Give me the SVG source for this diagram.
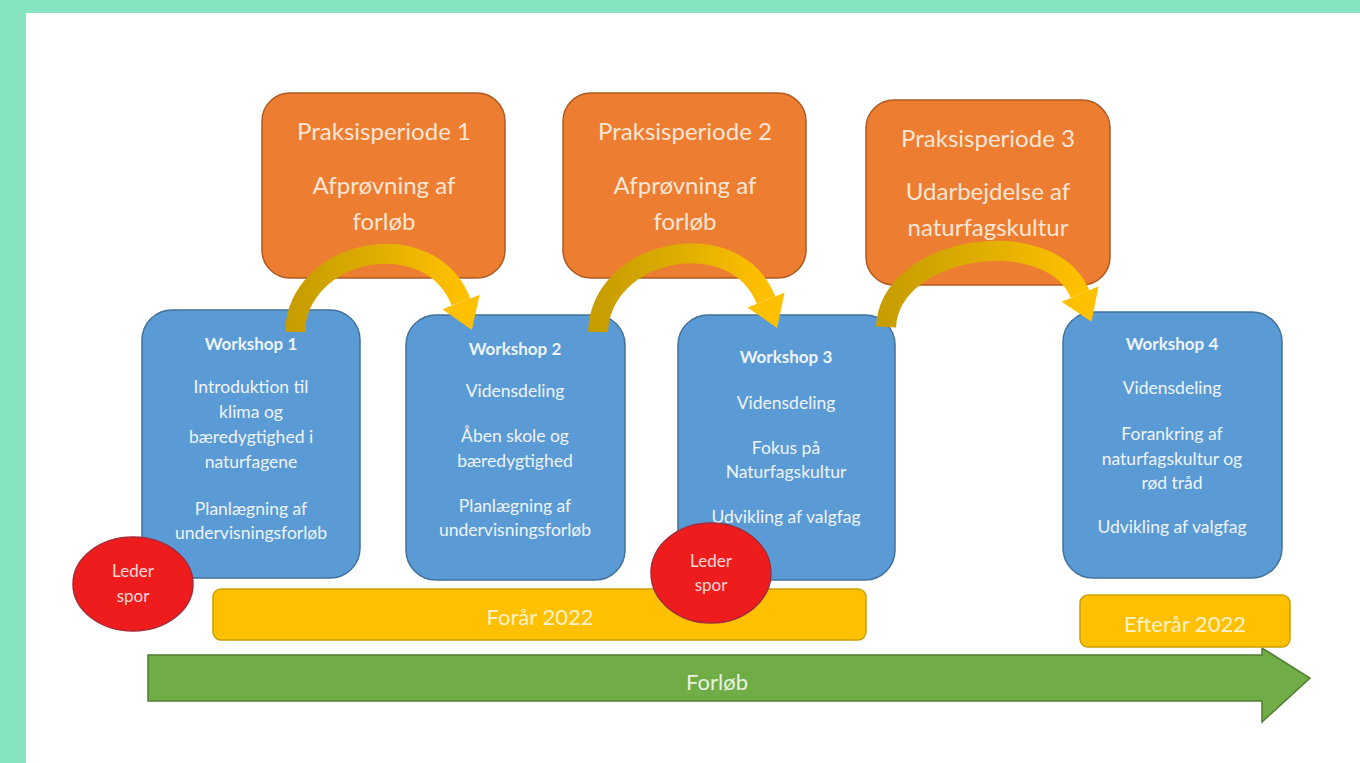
<svg xmlns="http://www.w3.org/2000/svg" width="1360" height="763" viewBox="0 0 1360 763">
<style>
.t{font-family:Lato,"Open Sans","Liberation Sans",sans-serif;text-anchor:middle}
.pp{fill:#ED7D31;stroke:#AE5A21;stroke-width:1.5}
.ppt{fill:#FCE6D6;font-size:24px}
.ws{fill:#5B9BD5;stroke:#41719C;stroke-width:1.5}
.wst{fill:#EEF4FB;font-size:17.5px}
.wsh{font-weight:bold;font-size:17px}
.ld{fill:#EE1C1C;stroke:#A52A3A;stroke-width:1.5}
.ldt{fill:#FBD8D8;font-size:17px}
.bar{fill:#FFC000;stroke:#C9A000;stroke-width:1.5}
.bart{fill:#FFF2CC;font-size:22px}
.arc{fill:none;stroke-width:20}
</style>
<defs>
<linearGradient id="g" x1="0" y1="0" x2="1" y2="0">
<stop offset="0" stop-color="#C79D00"/>
<stop offset="0.5" stop-color="#E0AE00"/>
<stop offset="1" stop-color="#FFC000"/>
</linearGradient>
<marker id="ah" viewBox="0 0 15 20" refX="0" refY="10" markerWidth="1.5" markerHeight="2" orient="auto" markerUnits="strokeWidth">
<path d="M0,0 L15,10 L0,20 z" fill="#FFC000"/>
</marker>
</defs>
<rect x="0" y="0" width="1360" height="763" fill="#86E5C0"/>
<rect x="26" y="13" width="1334" height="750" fill="#FFFFFF"/>

<g id="praksis1">
<rect class="pp" x="262" y="93" width="243" height="185" rx="28"/>
<text class="t ppt" x="384" y="140">Praksisperiode 1</text>
<text class="t ppt" x="384" y="194">Afprøvning af</text>
<text class="t ppt" x="384" y="230">forløb</text>
</g>
<g id="praksis2">
<rect class="pp" x="563" y="93" width="243" height="185" rx="28"/>
<text class="t ppt" x="685" y="140">Praksisperiode 2</text>
<text class="t ppt" x="685" y="194">Afprøvning af</text>
<text class="t ppt" x="685" y="230">forløb</text>
</g>
<g id="praksis3">
<rect class="pp" x="866" y="100" width="244" height="185" rx="28"/>
<text class="t ppt" x="988" y="147">Praksisperiode 3</text>
<text class="t ppt" x="988" y="200">Udarbejdelse af</text>
<text class="t ppt" x="988" y="236">naturfagskultur</text>
</g>

<g id="workshop1">
<rect class="ws" x="142" y="310" width="218" height="268" rx="30"/>
<text class="t wst wsh" x="251" y="350">Workshop 1</text>
<text class="t wst" x="251" y="393">Introduktion til</text>
<text class="t wst" x="251" y="418">klima og</text>
<text class="t wst" x="251" y="443">bæredygtighed i</text>
<text class="t wst" x="251" y="468">naturfagene</text>
<text class="t wst" x="251" y="515">Planlægning af</text>
<text class="t wst" x="251" y="539">undervisningsforløb</text>
</g>
<g id="workshop2">
<rect class="ws" x="406" y="315" width="219" height="265" rx="30"/>
<text class="t wst wsh" x="515" y="355">Workshop 2</text>
<text class="t wst" x="515" y="397">Vidensdeling</text>
<text class="t wst" x="515" y="442">Åben skole og</text>
<text class="t wst" x="515" y="467">bæredygtighed</text>
<text class="t wst" x="515" y="512">Planlægning af</text>
<text class="t wst" x="515" y="536">undervisningsforløb</text>
</g>
<g id="workshop3">
<rect class="ws" x="678" y="315" width="217" height="265" rx="30"/>
<text class="t wst wsh" x="786" y="363">Workshop 3</text>
<text class="t wst" x="786" y="409">Vidensdeling</text>
<text class="t wst" x="786" y="454">Fokus på</text>
<text class="t wst" x="786" y="478">Naturfagskultur</text>
<text class="t wst" x="786" y="523">Udvikling af valgfag</text>
</g>
<g id="workshop4">
<rect class="ws" x="1063" y="312" width="219" height="266" rx="30"/>
<text class="t wst wsh" x="1172" y="350">Workshop 4</text>
<text class="t wst" x="1172" y="394">Vidensdeling</text>
<text class="t wst" x="1172" y="440">Forankring af</text>
<text class="t wst" x="1172" y="465">naturfagskultur og</text>
<text class="t wst" x="1172" y="489">rød tråd</text>
<text class="t wst" x="1172" y="533">Udvikling af valgfag</text>
</g>

<g id="connectors">
<path class="arc" stroke="url(#g)" d="M295,332 C298,248 430,222 461,302" marker-end="url(#ah)"/>
<path class="arc" stroke="url(#g)" d="M598,332 C601,248 735,222 766,300" marker-end="url(#ah)"/>
<path class="arc" stroke="url(#g)" d="M886,327 C890,245 1050,222 1080,294" marker-end="url(#ah)"/>
</g>

<g id="forloeb">
<path d="M148,655 L1262,655 L1262,648 L1310,678 L1262,722 L1262,701 L148,701 z" fill="#70AD47" stroke="#507E32" stroke-width="1.5"/>
<text class="t bart" x="717" y="690" style="fill:#EAF3E3">Forløb</text>
</g>
<g id="foraar">
<rect class="bar" x="213" y="589" width="653" height="51" rx="8"/>
<text class="t bart" x="540" y="625">Forår 2022</text>
</g>
<g id="efteraar">
<rect class="bar" x="1080" y="595" width="210" height="52" rx="8"/>
<text class="t bart" x="1185" y="632">Efterår 2022</text>
</g>

<g id="leder1">
<ellipse class="ld" cx="133" cy="584" rx="60" ry="47"/>
<text class="t ldt" x="133" y="577">Leder</text>
<text class="t ldt" x="133" y="602">spor</text>
</g>
<g id="leder2">
<ellipse class="ld" cx="711" cy="573" rx="60" ry="50"/>
<text class="t ldt" x="711" y="567">Leder</text>
<text class="t ldt" x="711" y="591">spor</text>
</g>
</svg>
